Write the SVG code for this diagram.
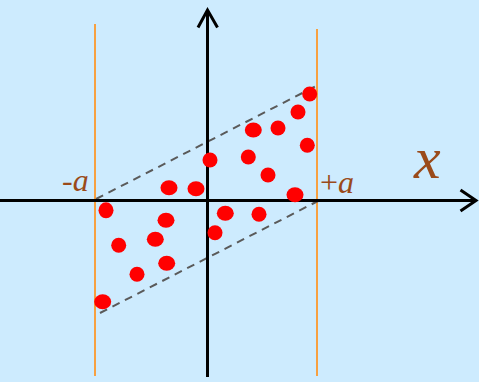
<svg xmlns="http://www.w3.org/2000/svg" width="479" height="382" viewBox="0 0 479 382">
<style>
.bound{stroke:#F7A040;stroke-width:2;fill:none}
.axis{stroke:#000;stroke-width:3;fill:none}
.dash{stroke:#5a5a5a;stroke-width:2;stroke-dasharray:8 6;fill:none}
.dot{fill:#FF0000}
.lbl{font-family:"Liberation Serif","Times New Roman",serif;fill:#9A4A1A}
</style>
<rect width="479" height="382" fill="#CDEBFE"/>
<g id="bounds">
<line class="bound" x1="95" y1="24" x2="95" y2="376"/>
<line class="bound" x1="317" y1="29" x2="317" y2="376"/>
</g>
<g id="connectors">
<line class="dash" x1="96" y1="199" x2="316" y2="86"/>
<line class="dash" x1="100" y1="313" x2="318" y2="201"/>
</g>
<g id="axes">
<line class="axis" x1="0" y1="200.5" x2="475" y2="200.5"/>
<polyline class="axis" points="460.5,190 476,200.5 460.5,211"/>
<line class="axis" x1="207.5" y1="377" x2="207.5" y2="11"/>
<polyline class="axis" points="198,27.5 207.5,10 217.5,27.5"/>
</g>
<g id="points">
<ellipse class="dot" cx="309.7" cy="94" rx="7.5" ry="7.5"/>
<ellipse class="dot" cx="298" cy="112" rx="7.5" ry="7.5"/>
<ellipse class="dot" cx="253.3" cy="130" rx="8.5" ry="7.5"/>
<ellipse class="dot" cx="278" cy="128" rx="7.5" ry="7.5"/>
<ellipse class="dot" cx="307.3" cy="145.3" rx="7.5" ry="7.5"/>
<ellipse class="dot" cx="210" cy="160" rx="7.5" ry="7.5"/>
<ellipse class="dot" cx="248.3" cy="157" rx="7.5" ry="7.5"/>
<ellipse class="dot" cx="268" cy="175" rx="7.5" ry="7.5"/>
<ellipse class="dot" cx="295" cy="194.7" rx="8.5" ry="7.5"/>
<ellipse class="dot" cx="169" cy="187.7" rx="8.5" ry="7.5"/>
<ellipse class="dot" cx="196" cy="188.7" rx="8.5" ry="7.5"/>
<ellipse class="dot" cx="106" cy="210.3" rx="7.5" ry="8"/>
<ellipse class="dot" cx="166" cy="220.3" rx="8.5" ry="7.5"/>
<ellipse class="dot" cx="225.3" cy="213.3" rx="8.5" ry="7.5"/>
<ellipse class="dot" cx="259" cy="214.3" rx="7.5" ry="7.5"/>
<ellipse class="dot" cx="215" cy="232.7" rx="7.5" ry="7.5"/>
<ellipse class="dot" cx="118.7" cy="245.3" rx="7.5" ry="7.5"/>
<ellipse class="dot" cx="155.3" cy="239.3" rx="8.5" ry="7.5"/>
<ellipse class="dot" cx="166.7" cy="263.3" rx="8.5" ry="7.5"/>
<ellipse class="dot" cx="137" cy="274.3" rx="7.5" ry="7.5"/>
<ellipse class="dot" cx="102.7" cy="301.7" rx="8.5" ry="7.5"/>
</g>
<g id="labels">
<text class="lbl" x="62" y="191" font-size="32">-<tspan font-style="italic">a</tspan></text>
<text class="lbl" x="320" y="193" font-size="32">+<tspan font-style="italic">a</tspan></text>
<text class="lbl" x="414" y="178" font-size="60" font-style="italic">x</text>
</g>
</svg>
